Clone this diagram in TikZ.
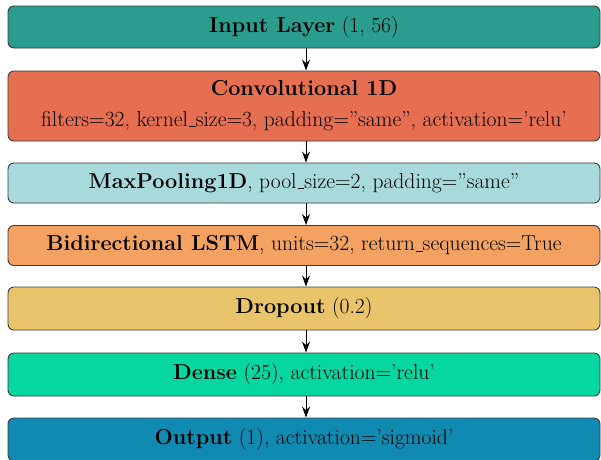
\documentclass[tikz,border=0pt]{standalone}
\usetikzlibrary{arrows.meta}
\definecolor{cInput}{HTML}{2A9D8F}
\definecolor{cConv}{HTML}{E76F51}
\definecolor{cPool}{HTML}{A8DADC}
\definecolor{cLstm}{HTML}{F4A261}
\definecolor{cDrop}{HTML}{E9C46A}
\definecolor{cDense}{HTML}{06D6A0}
\definecolor{cOut}{HTML}{118AB2}
\definecolor{cEdge}{HTML}{3A3A3A}
% low, short underscore rule
\newcommand\usc{\leavevmode\kern.06em\vbox{\hrule width .3em}}
\tikzset{
  layer/.style={draw=cEdge, line width=0.9pt, rounded corners=6pt,
    minimum width=592pt, inner sep=0pt, align=center,
    font=\fontsize{21.6}{26}\selectfont},
  flow/.style={-{Stealth[length=11pt,width=8pt]}, line width=1pt, black}
}
\begin{document}
\begin{tikzpicture}[x=1pt,y=-1pt]
\useasboundingbox (0,0) rectangle (601,459);
\node[layer, fill=cInput, minimum height=42pt] (in) at (304,27) {\textbf{Input Layer} (1, 56)};
\node[layer, fill=cConv, minimum height=70pt] (conv) at (304,106)
  {\textbf{Convolutional 1D}\\[5pt] filters=32, kernel\usc size=3, padding=''same'', activation='relu'};
\node[layer, fill=cPool, minimum height=40pt] (pool) at (304,183)
  {\textbf{MaxPooling1D}, pool\usc size=2, padding=''same''};
\node[layer, fill=cLstm, minimum height=40pt] (lstm) at (304,245.5)
  {\textbf{Bidirectional LSTM}, units=32, return\usc sequences=True};
\node[layer, fill=cDrop, minimum height=43pt] (drop) at (304,308.5) {\textbf{Dropout} (0.2)};
\node[layer, fill=cDense, minimum height=43pt] (dense) at (304,374.5) {\textbf{Dense} (25), activation='relu'};
\node[layer, fill=cOut, minimum height=43pt] (out) at (304,439.5) {\textbf{Output} (1), activation='sigmoid'};
\draw[flow] ([xshift=2pt]in.south) -- ([xshift=2pt]conv.north);
\draw[flow] ([xshift=2pt]conv.south) -- ([xshift=2pt]pool.north);
\draw[flow] ([xshift=2pt]pool.south) -- ([xshift=2pt]lstm.north);
\draw[flow] ([xshift=2pt]lstm.south) -- ([xshift=2pt]drop.north);
\draw[flow] ([xshift=2pt]drop.south) -- ([xshift=2pt]dense.north);
\draw[flow] ([xshift=2pt]dense.south) -- ([xshift=2pt]out.north);
\end{tikzpicture}
\end{document}
